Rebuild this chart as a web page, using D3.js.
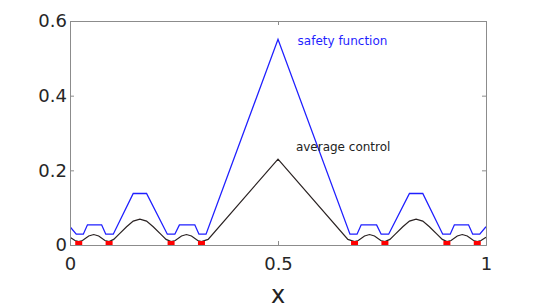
<!DOCTYPE html>
<html>
<head>
<meta charset="utf-8">
<title>Safety function</title>
<script src="https://d3js.org/d3.v7.min.js"></script>
<style>
    body { margin: 0; padding: 0; background: #fff; font-family: "DejaVu Sans", sans-serif; }
    .tick text { fill: #262626; }
</style>
</head>
<body>
<div id="chart"></div>
<script>
    // values
    var safetyX = [0, 0.015, 0.032, 0.042, 0.076, 0.086, 0.104, 0.152, 0.184, 0.234, 0.252, 0.263, 0.300, 0.310, 0.327, 0.5,
        0.673, 0.690, 0.700, 0.737, 0.748, 0.766, 0.816, 0.848, 0.896, 0.914, 0.924, 0.958, 0.968, 0.985, 1]
    var safetyY = [0.049, 0.029, 0.029, 0.054, 0.054, 0.029, 0.029, 0.138, 0.138, 0.029, 0.029, 0.054, 0.054, 0.029, 0.029, 0.551,
        0.029, 0.029, 0.054, 0.054, 0.029, 0.029, 0.138, 0.138, 0.029, 0.029, 0.054, 0.054, 0.029, 0.029, 0.049]

    var controlX = [0, 0.012, 0.021, 0.030, 0.045, 0.057, 0.069, 0.084, 0.094, 0.105, 0.118, 0.136, 0.152, 0.168, 0.184, 0.200,
        0.218, 0.231, 0.243, 0.253, 0.268, 0.280, 0.292, 0.307, 0.316, 0.332, 0.5,
        0.668, 0.684, 0.693, 0.708, 0.720, 0.732, 0.747, 0.757, 0.769, 0.782, 0.800, 0.816, 0.832, 0.848, 0.864,
        0.882, 0.895, 0.906, 0.916, 0.931, 0.943, 0.955, 0.970, 0.979, 0.988, 1]
    var controlY = [0.021, 0.012, 0.009, 0.012, 0.024, 0.028, 0.024, 0.012, 0.009, 0.015, 0.029, 0.049, 0.064, 0.069, 0.064, 0.049,
        0.029, 0.015, 0.009, 0.012, 0.024, 0.028, 0.024, 0.012, 0.009, 0.015, 0.23,
        0.015, 0.009, 0.012, 0.024, 0.028, 0.024, 0.012, 0.009, 0.015, 0.029, 0.049, 0.064, 0.069, 0.064, 0.049,
        0.029, 0.015, 0.009, 0.012, 0.024, 0.028, 0.024, 0.012, 0.009, 0.012, 0.021]

    var markerX = [0.021, 0.094, 0.243, 0.316, 0.684, 0.757, 0.906, 0.979]

    var xTicks = [0, 0.5, 1]
    var yTicks = [0, 0.2, 0.4, 0.6]

    var labelText = ["safety function", "average control"]
    var labelX = [0.547, 0.543]
    var labelY = [0.536, 0.252]
    var labelColor = ["#1f1fff", "#222"]

    var margin = { top: 21, right: 52, bottom: 60, left: 70 }
    var width = 538 - margin.left - margin.right
    var height = 305 - margin.top - margin.bottom

    var svg = d3.select("#chart")
        .append("svg")
        .attr("width", 538)
        .attr("height", 305)
        .append("g")
        .attr("transform", "translate(" + margin.left + "," + margin.top + ")")

    var x = d3.scaleLinear().domain([0, 1]).range([0, width])
    var y = d3.scaleLinear().domain([0, 0.6]).range([height, 0])

    svg.append("defs").append("clipPath")
        .attr("id", "clip")
        .append("rect")
        .attr("width", width)
        .attr("height", height)

    var line = d3.line()
        .x(function (d) { return x(d[0]) })
        .y(function (d) { return y(d[1]) })

    var plot = svg.append("g").attr("clip-path", "url(#clip)")

    plot.append("path")
        .datum(d3.zip(safetyX, safetyY))
        .attr("fill", "none")
        .attr("stroke", "#1f1fff")
        .attr("stroke-width", 1.3)
        .attr("d", line)

    plot.append("path")
        .datum(d3.zip(controlX, controlY))
        .attr("fill", "none")
        .attr("stroke", "#2a2222")
        .attr("stroke-width", 1.2)
        .attr("d", line)

    var size = 7
    plot.selectAll("rect.marker")
        .data(markerX)
        .enter()
        .append("rect")
        .attr("class", "marker")
        .attr("x", function (d) { return x(d) - size / 2 })
        .attr("y", y(0) - 4)
        .attr("width", size)
        .attr("height", 8)
        .attr("fill", "#ff0000")

    // axes in a box, ticks pointing inward
    function styleAxis(g) {
        g.selectAll(".domain").attr("stroke", "#8c8c8c")
        g.selectAll(".tick line").attr("stroke", "#8c8c8c")
        g.attr("font-family", "DejaVu Sans").attr("font-size", 18)
    }

    svg.append("g")
        .attr("transform", "translate(0," + height + ")")
        .call(d3.axisBottom(x).tickValues(xTicks).tickFormat(d3.format("")).tickSize(-4).tickPadding(12))
        .call(styleAxis)

    svg.append("g")
        .call(d3.axisTop(x).tickValues(xTicks).tickFormat("").tickSize(-4))
        .call(styleAxis)

    svg.append("g")
        .call(d3.axisLeft(y).tickValues(yTicks).tickFormat(d3.format("")).tickSize(-4).tickPadding(3))
        .call(styleAxis)

    svg.append("g")
        .attr("transform", "translate(" + width + ",0)")
        .call(d3.axisRight(y).tickValues(yTicks).tickFormat("").tickSize(-4))
        .call(styleAxis)

    svg.append("text")
        .attr("x", width / 2)
        .attr("y", height + 58)
        .attr("text-anchor", "middle")
        .attr("font-size", 24)
        .attr("fill", "#222")
        .text("x")

    svg.selectAll("text.note")
        .data(labelText)
        .enter()
        .append("text")
        .attr("class", "note")
        .attr("x", function (d, i) { return x(labelX[i]) })
        .attr("y", function (d, i) { return y(labelY[i]) })
        .attr("font-size", 12)
        .attr("fill", function (d, i) { return labelColor[i] })
        .text(function (d) { return d })
</script>
</body>
</html>
